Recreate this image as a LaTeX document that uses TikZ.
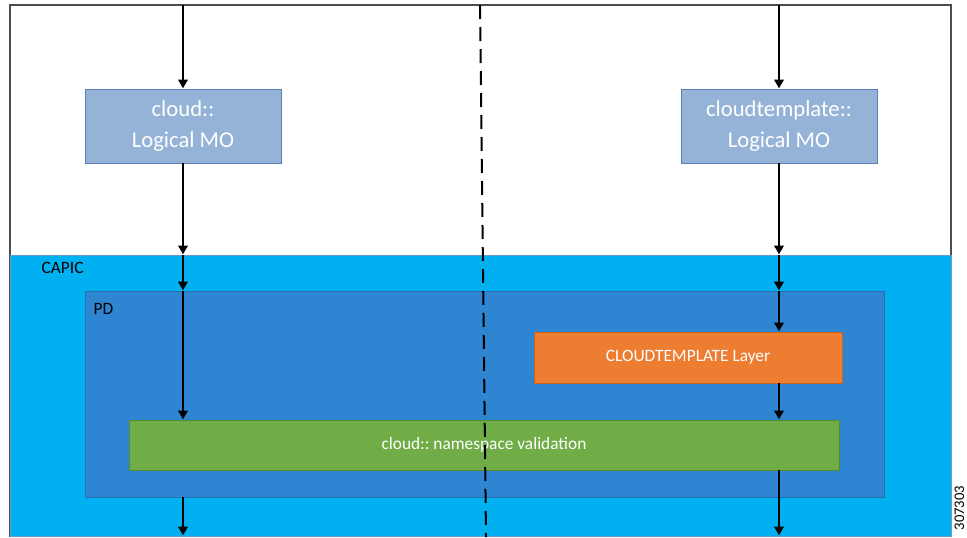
\documentclass[tikz,border=0pt]{standalone}
\usepackage{fontspec}
\setmainfont{Carlito}
\usepackage{xcolor}
\usetikzlibrary{arrows.meta}
\usetikzlibrary{positioning}
\definecolor{capicblue}{HTML}{00B0F0}
\definecolor{pdblue}{HTML}{2E86D3}
\definecolor{pdedge}{HTML}{2A6DB0}
\definecolor{moblue}{HTML}{95B3D7}
\definecolor{moedge}{HTML}{5C7FB8}
\definecolor{layerorange}{HTML}{ED7D31}
\definecolor{layeredge}{HTML}{C5631E}
\definecolor{validgreen}{HTML}{70AD47}
\definecolor{validedge}{HTML}{548A33}
\frenchspacing
\tikzset{region/.style={draw,inner sep=0pt,outer sep=0pt},
         mobox/.style={region,fill=moblue,draw=moedge,text=white,align=center,
                       minimum width=147pt,minimum height=55.5pt,
                       font=\fontsize{17}{23}\selectfont},
         layerbox/.style={region,text=white,font=\fontsize{13}{16}\selectfont},
         flow/.style={line width=2.1pt,-{Triangle[length=6.5pt,width=7pt]},shorten >=0.5pt},
         label/.style={anchor=west,font=\fontsize{13}{16}\selectfont},
         }

\begin{document}
\begin{tikzpicture}[x=0.75pt,y=-0.75pt]
\useasboundingbox (0,0) rectangle (967,537);
\draw[gray!60!black,line width=0.8pt] (10,5) rectangle (951,536);
% regions
\node[region,fill=capicblue,draw=pdedge!70,minimum width=705.75pt,minimum height=210.75pt]
    (capic) at (480.5,395.5) {};
\node[region,fill=pdblue,draw=pdedge,minimum width=599.25pt,minimum height=154.5pt]
    (pd) at (484.5,394) {};
\node[label] at (37,268) {CAPIC};
\node[label] at (89,309) {PD};
% logical MOs
\node[mobox] (cloudmo) at (183,126) {cloud::\\Logical MO};
\node[mobox] (tmplmo) at (779,126) {cloudtemplate::\\Logical MO};
% layers
\node[layerbox,fill=layerorange,draw=layeredge,minimum width=231pt,minimum height=38.25pt]
    (layer) at (688,357.5) {CLOUDTEMPLATE Layer};
\node[layerbox,fill=validgreen,draw=validedge,minimum width=532.5pt,minimum height=37.5pt]
    (valid) at (484,445) {cloud:: namespace validation};
\coordinate (cloudin) at (183,5);
\coordinate (tmplin) at (779,5);
% left path
\draw[flow] (cloudin) -- (cloudmo);
\draw[flow] (cloudmo) -- (cloudmo |- capic.north);
\draw[flow] (cloudmo |- capic.north) -- (cloudmo |- pd.north);
\draw[flow] (cloudmo |- pd.north) -- (cloudmo |- valid.north);
\draw[flow] (cloudmo |- pd.south) -- (cloudmo |- capic.south);
% right path
\draw[flow] (tmplin) -- (tmplmo);
\draw[flow] (tmplmo) -- (tmplmo |- capic.north);
\draw[flow] (tmplmo |- capic.north) -- (tmplmo |- pd.north);
\draw[flow] (tmplmo |- pd.north) -- (tmplmo |- layer.north);
\draw[flow] (tmplmo |- layer.south) -- (tmplmo |- valid.north);
\draw[flow] (tmplmo |- valid.south) -- (tmplmo |- capic.south);
% divider
\coordinate (divtop) at (480,5);
\coordinate (divbot) at (486,537);
\draw[line width=1.5pt,dash pattern=on 10.5pt off 6pt] (divtop) -- (divbot);
\node[rotate=90,inner sep=0pt,font=\fontsize{11}{13}\selectfont] (figno) at (959.5,508) {307303};
\end{tikzpicture}
\end{document}
